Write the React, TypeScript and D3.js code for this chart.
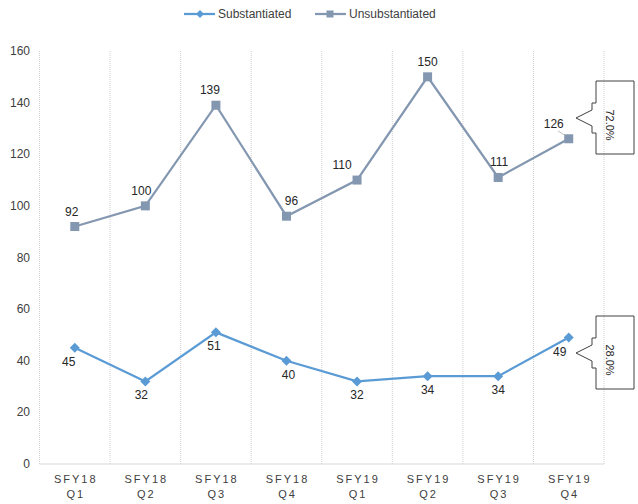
import * as d3 from "d3";
import React from "react";

const categories = [
	"SFY18 Q1",
	"SFY18 Q2",
	"SFY18 Q3",
	"SFY18 Q4",
	"SFY19 Q1",
	"SFY19 Q2",
	"SFY19 Q3",
	"SFY19 Q4",
];
const substantiated = [45, 32, 51, 40, 32, 34, 34, 49];
const unsubstantiated = [92, 100, 139, 96, 110, 150, 111, 126];
const yTicks = [0, 20, 40, 60, 80, 100, 120, 140, 160];
const seriesNames = ["Substantiated", "Unsubstantiated"];
const calloutLabels = ["72.0%", "28.0%"];
// label nudges (horizontal) copied by eye from the original chart
const subShift = [-6, -4, -2, 2, 0, 0, 0, -9];
const unsubShift = [-3, -4, -6, 5, -15, 0, 1, -15];

const FONT = "'Liberation Sans', Arial, sans-serif";
const SUB_COLOR = "#5B9BD5";
const UNSUB_COLOR = "#8497B0";

const Callout = ({ x, y, label }: { x: number; y: number; label: string }) => {
	// x = box left edge, y = arrow tip height
	const boxW = 38,
		top = y - 37,
		bottom = y + 36;
	const d = [
		[x, top],
		[x + boxW, top],
		[x + boxW, bottom],
		[x, bottom],
		[x, y + 15],
		[x - 4, y + 15],
		[x - 4, y + 8],
		[x - 20, y],
		[x - 4, y - 8],
		[x - 4, y - 15],
		[x, y - 15],
	];
	return (
		<g>
			<path
				d={d3.line()(d as [number, number][]) + "Z"}
				fill="none"
				stroke="#404040"
				strokeWidth={1}
			/>
			<text
				transform={`translate(${x + 14},${y + 7}) rotate(90)`}
				textAnchor="middle"
				dominantBaseline="central"
				fontSize={11}
				fontFamily={FONT}
				fill="#262626"
			>
				{label}
			</text>
		</g>
	);
};

const App = () => {
	const width = 638,
		height = 504;
	const margin = { left: 39.5, right: 34, top: 51, bottom: 40 };

	const x = d3
		.scaleBand()
		.domain(categories)
		.range([margin.left, width - margin.right]);
	const cx = (c: string) => (x(c) ?? 0) + x.bandwidth() / 2;
	const y = d3
		.scaleLinear()
		.domain([0, 160])
		.range([height - margin.bottom, margin.top]);

	const line = d3
		.line<number>()
		.x((_, i) => cx(categories[i]))
		.y((d) => y(d));

	const gridX = [...categories.map((c) => x(c) ?? 0), width - margin.right];

	return (
		<svg
			width={width}
			height={height}
			style={{ position: "absolute", left: 0, top: 0, background: "#fff" }}
		>
			{/* legend */}
			<g fontFamily={FONT} fontSize={12} fill="#404040">
				<line x1={184} x2={215} y1={14} y2={14} stroke={SUB_COLOR} strokeWidth={2.25} />
				<path d="M200,10 L204,14 L200,18 L196,14Z" fill={SUB_COLOR} />
				<text x={218} y={14} dominantBaseline="central">
					{seriesNames[0]}
				</text>
				<line x1={315} x2={346} y1={14} y2={14} stroke={UNSUB_COLOR} strokeWidth={2.25} />
				<rect x={326.5} y={10.5} width={7} height={7} fill={UNSUB_COLOR} />
				<text x={349} y={14} dominantBaseline="central">
					{seriesNames[1]}
				</text>
			</g>

			{/* vertical grid */}
			{gridX.map((gx, i) => (
				<line
					key={i}
					x1={gx}
					x2={gx}
					y1={y(160)}
					y2={y(0)}
					stroke="#d0d0d0"
					strokeWidth={1}
					strokeDasharray="1,1"
				/>
			))}
			<line
				x1={margin.left}
				x2={width - margin.right}
				y1={y(0)}
				y2={y(0)}
				stroke="#d9d9d9"
				strokeWidth={1}
			/>

			{/* y axis labels */}
			<g fontFamily={FONT} fontSize={12} fill="#404040">
				{yTicks.map((t) => (
					<text key={t} x={30} y={y(t)} textAnchor="end" dominantBaseline="central">
						{t}
					</text>
				))}
			</g>

			{/* x axis labels */}
			<g fontFamily={FONT} fontSize={11} fill="#404040" letterSpacing={2}>
				{categories.map((c) => {
					const [a, b] = c.split(" ");
					return (
						<g key={c}>
							<text x={cx(c) + 1} y={479} textAnchor="middle" dominantBaseline="central">
								{a}
							</text>
							<text x={cx(c) + 1} y={494} textAnchor="middle" dominantBaseline="central">
								{b}
							</text>
						</g>
					);
				})}
			</g>

			{/* series lines */}
			<path d={line(unsubstantiated) ?? ""} fill="none" stroke={UNSUB_COLOR} strokeWidth={2.25} />
			<path d={line(substantiated) ?? ""} fill="none" stroke={SUB_COLOR} strokeWidth={2.25} />

			{unsubstantiated.map((v, i) => (
				<rect
					key={"u" + i}
					x={cx(categories[i]) - 4.5}
					y={y(v) - 4.5}
					width={9}
					height={9}
					fill={UNSUB_COLOR}
				/>
			))}
			{substantiated.map((v, i) => {
				const px = cx(categories[i]),
					py = y(v);
				return (
					<path
						key={"s" + i}
						d={`M${px},${py - 5} L${px + 5},${py} L${px},${py + 5} L${px - 5},${py}Z`}
						fill={SUB_COLOR}
					/>
				);
			})}

			{/* data labels */}
			<g fontFamily={FONT} fontSize={12} fill="#262626" textAnchor="middle">
				{unsubstantiated.map((v, i) => (
					<text
						key={"ul" + i}
						x={cx(categories[i]) + unsubShift[i]}
						y={y(v) - 15}
						dominantBaseline="central"
					>
						{v}
					</text>
				))}
				{substantiated.map((v, i) => (
					<text
						key={"sl" + i}
						x={cx(categories[i]) + subShift[i]}
						y={y(v) + 14}
						dominantBaseline="central"
					>
						{v}
					</text>
				))}
			</g>
			<line x1={558} y1={131} x2={566} y2={136} stroke="#a6a6a6" strokeWidth={0.75} />

			<Callout x={596} y={118} label={calloutLabels[0]} />
			<Callout x={596} y={353} label={calloutLabels[1]} />
		</svg>
	);
};

export default App;
